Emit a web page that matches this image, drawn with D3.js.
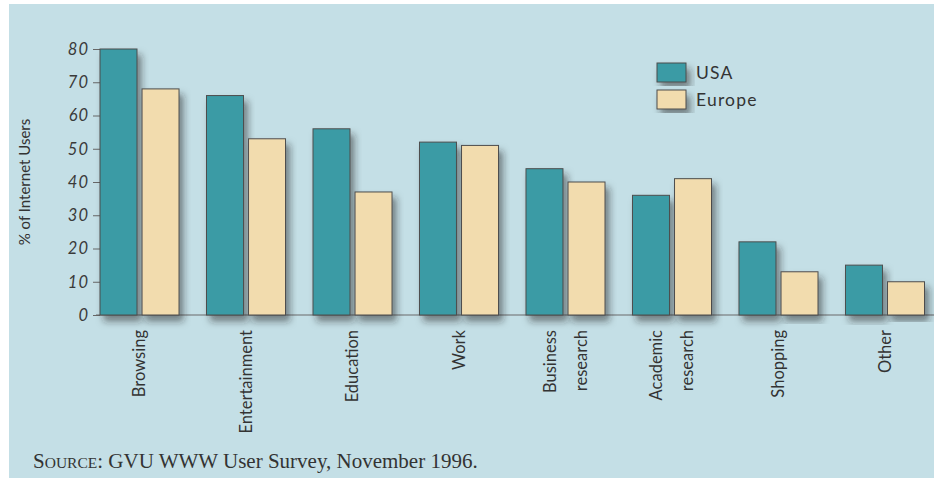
<!doctype html>
<html lang="en">
<head>
<meta charset="utf-8">
<title>Internet use, USA vs Europe</title>
<script src="https://d3js.org/d3.v7.min.js"></script>
<style>
  body { margin: 0; background: #fff; }
  .tick text { font: italic 16.5px Lato, "Open Sans", sans-serif; fill: #3a3a3a; letter-spacing: 1px; }
  .tick line { stroke: #666; }
  .cat { font: 16.5px Lato, "Open Sans", sans-serif; fill: #333; }
  .legend text { font: 17.5px Lato, "Open Sans", sans-serif; fill: #333; letter-spacing: 1.2px; }
  .ytitle { font: 15px Lato, "Open Sans", sans-serif; fill: #333; }
  .source { font: 21px "Liberation Serif", "DejaVu Serif", serif; fill: #333; }
</style>
</head>
<body>
<svg width="934" height="480"></svg>
<script>
// values (% of internet users)
var categories = ["Browsing", "Entertainment", "Education", "Work", "Business research", "Academic research", "Shopping", "Other"];
var usa = [80, 66, 56, 52, 44, 36, 22, 15];
var europe = [68, 53, 37, 51, 40, 41, 13, 10];
var seriesNames = ["USA", "Europe"];
var yTicks = [0, 10, 20, 30, 40, 50, 60, 70, 80];

var colors = { USA: "#3b9ba5", Europe: "#f2dcae" };

var svg = d3.select("svg");

// drop shadow like the printed bars
var defs = svg.append("defs");
defs.append("filter").attr("id", "shadow")
  .attr("x", "-30%").attr("y", "-10%").attr("width", "160%").attr("height", "130%")
  .append("feDropShadow")
  .attr("dx", 4).attr("dy", 6).attr("stdDeviation", 3.5)
  .attr("flood-color", "#1e1e1e").attr("flood-opacity", 0.5);

// paper background
svg.append("rect")
  .attr("x", 9).attr("y", 4).attr("width", 925).attr("height", 474)
  .attr("fill", "#c4dfe6");

var x0 = d3.scaleBand()
  .domain(categories)
  .range([100, 924.5])
  .paddingInner(0.258)
  .paddingOuter(0);

var x1 = d3.scaleBand()
  .domain(seriesNames)
  .range([0, x0.bandwidth()])
  .paddingInner(0.12);

var y = d3.scaleLinear()
  .domain([0, 80])
  .range([315, 49]);

// baseline
svg.append("line")
  .attr("x1", 96).attr("x2", 934)
  .attr("y1", y(0)).attr("y2", y(0))
  .attr("stroke", "#6b6b6b").attr("stroke-width", 1.2);

// y axis: ticks and italic labels only
var yAxis = svg.append("g")
  .attr("transform", "translate(100,0)")
  .call(d3.axisLeft(y).tickValues(yTicks).tickSize(7).tickPadding(4));
yAxis.select(".domain").remove();

svg.append("text")
  .attr("class", "ytitle")
  .attr("transform", "translate(25," + y(40) + ") rotate(-90)")
  .attr("text-anchor", "middle")
  .attr("dy", "0.35em")
  .text("% of Internet Users");

// bars
var rows = categories.map(function (c, i) {
  return { cat: c, values: [{ key: "USA", value: usa[i] }, { key: "Europe", value: europe[i] }] };
});

var groups = svg.append("g").selectAll("g")
  .data(rows)
  .enter().append("g")
  .attr("transform", function (d) { return "translate(" + x0(d.cat) + ",0)"; });

groups.selectAll("rect")
  .data(function (d) { return d.values; })
  .enter().append("rect")
  .attr("x", function (d) { return x1(d.key); })
  .attr("y", function (d) { return y(d.value); })
  .attr("width", x1.bandwidth())
  .attr("height", function (d) { return y(0) - y(d.value); })
  .attr("fill", function (d) { return colors[d.key]; })
  .attr("stroke", "#4d4d4d")
  .attr("stroke-width", 1)
  .attr("filter", "url(#shadow)");

// rotated category labels, split on the space for two-word labels
var cat = svg.append("g").selectAll("text")
  .data(categories)
  .enter().append("text")
  .attr("class", "cat")
  .attr("text-anchor", "end")
  .attr("transform", function (d) {
    return "translate(" + (x0(d) + x0.bandwidth() / 2) + ",330) rotate(-90)";
  });

cat.each(function (d) {
  var words = d.split(" ");
  var sel = d3.select(this);
  words.forEach(function (w, i) {
    sel.append("tspan")
      .attr("x", 0)
      .attr("y", (i - (words.length - 1) / 2) * 31)
      .attr("dy", "0.35em")
      .text(w);
  });
});

// legend
var legend = svg.append("g").attr("class", "legend")
  .selectAll("g")
  .data(seriesNames)
  .enter().append("g")
  .attr("transform", function (d, i) { return "translate(657," + (63 + i * 27) + ")"; });

legend.append("rect")
  .attr("width", 29).attr("height", 19)
  .attr("fill", function (d) { return colors[d]; })
  .attr("stroke", "#4d4d4d")
  .attr("filter", "url(#shadow)");

legend.append("text")
  .attr("x", 39).attr("y", 10).attr("dy", "0.35em")
  .text(function (d) { return d; });

// source line with small caps
var src = svg.append("text").attr("class", "source").attr("x", 33).attr("y", 468);
src.append("tspan").text("S");
src.append("tspan").style("font-size", "15.5px").text("OURCE");
src.append("tspan").text(": GVU WWW User Survey, November 1996.");
</script>
</body>
</html>
